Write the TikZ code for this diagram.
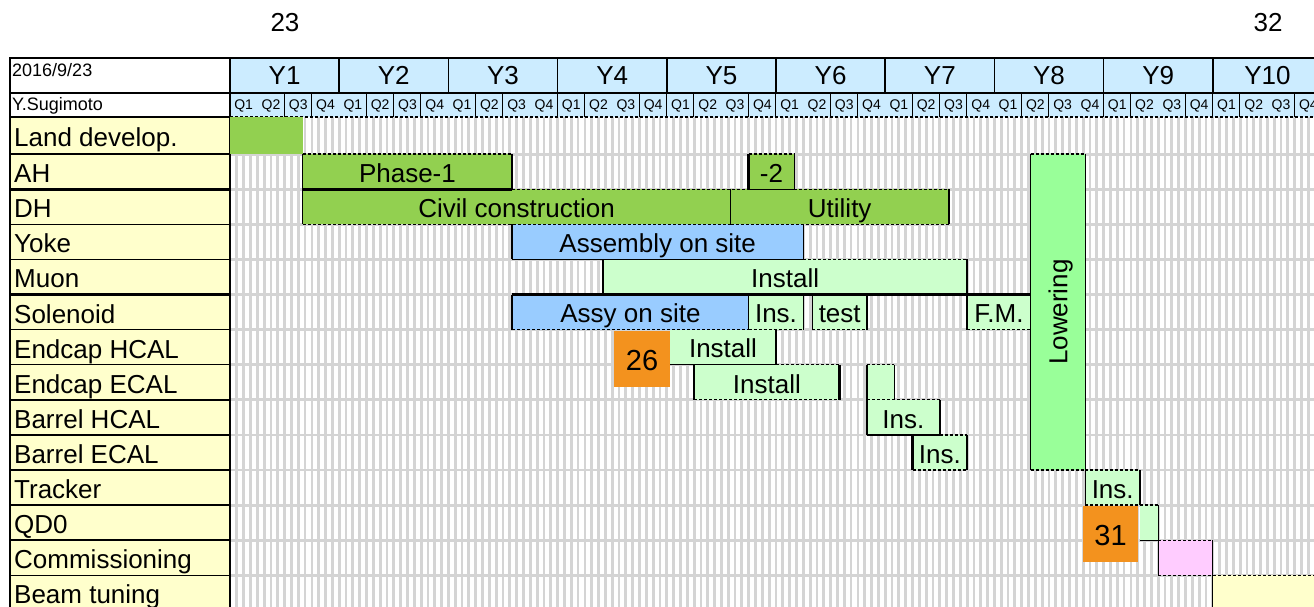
\documentclass[tikz,border=0pt]{standalone}
\usepackage{fontspec}
\setmainfont{Liberation Sans}
\usetikzlibrary{fit,calc}
\definecolor{xgreen}{RGB}{146,208,80}
\definecolor{xblue}{RGB}{153,204,255}
\definecolor{xlgreen}{RGB}{204,255,204}
\definecolor{xlow}{RGB}{153,255,153}
\definecolor{xpink}{RGB}{255,204,255}
\definecolor{xyellow}{RGB}{255,255,204}
\definecolor{xhead}{RGB}{204,236,255}
\definecolor{xorange}{RGB}{243,146,30}
\definecolor{xgrid}{RGB}{212,212,212}
\tikzset{
  bar/.style={inner sep=0pt, outer sep=0pt},
  btxt/.style={inner sep=0pt, font=\fontsize{26}{26}\selectfont, text height=18.6pt, text depth=0pt},
  sld/.style={draw=black, line width=1.3pt},
  thk/.style={draw=black, line width=2.6pt},
  dsh/.style={draw=black, line width=1.3pt, dash pattern=on 3pt off 2pt},
  nol/.style={draw=none},
  lab/.style={anchor=base west, inner sep=0pt, font=\fontsize{26}{26}\selectfont},
  yearlab/.style={inner sep=0pt, font=\fontsize{26}{26}\selectfont, text height=18.6pt, text depth=0pt},
  qlab/.style={inner sep=0pt, font=\fontsize{14}{14}\selectfont, text height=10pt, text depth=0pt},
  small/.style={anchor=base west, inner sep=0pt, font=\fontsize{18}{18}\selectfont},
  topnum/.style={inner sep=0pt, font=\fontsize{26}{26}\selectfont, text height=18.6pt, text depth=0pt},
  otxt/.style={inner sep=0pt, font=\fontsize{29}{29}\selectfont, text height=20.8pt, text depth=0pt}
}
\newcommand\baredges[5]{%
  \draw[#2] (#1.north west) -- (#1.north east);
  \draw[#3] (#1.north east) -- (#1.south east);
  \draw[#4] (#1.south west) -- (#1.south east);
  \draw[#5] (#1.north west) -- (#1.south west);}
\begin{document}
\begin{tikzpicture}[x=1pt,y=-1pt]
\useasboundingbox (0,0) rectangle (1314,607);
\clip (0,0) rectangle (1314,607);
\fill[white] (0,0) rectangle (1314,607);

% grid
\foreach \i in {1,...,160} {
  \draw[xgrid, line width=2.8pt] ({230+6.825*\i},117) -- ({230+6.825*\i},610);
}
\foreach \y in {154.1,189.2,224.3,259.4,294.5,329.6,364.7,399.8,434.9,470,505.1,540.2,575.3} {
  \draw[xgrid, line width=2.8pt] (230,\y) -- (1314,\y);
}

% top numbers
\node[topnum] (n23) at (285,22) {23};
\node[topnum] (n32) at (1268,22) {32};

% header left cells
\node[fit={(10,58)(230,93)}, inner sep=0pt, outer sep=0pt, fill=white, sld] (hdate) {};
\node[fit={(10,93)(230,117)}, inner sep=0pt, outer sep=0pt, fill=white, sld] (hname) {};
\node[small] (datetxt) at (12,77) {2016/9/23};
\node[small] (nametxt) at (12,111) {Y.Sugimoto};

% year cells
\foreach \k in {0,...,9} {
  \pgfmathsetmacro\xa{230+109.2*\k}
  \pgfmathsetmacro\xb{230+109.2*(\k+1)}
  \pgfmathtruncatemacro\yr{\k+1}
  \node[fit={(\xa,58)(\xb,93)}, inner sep=0pt, outer sep=0pt, fill=xhead, draw=black, line width=1.5pt] (y\yr) {};
  \node[yearlab] (yt\yr) at (y\yr.center) {Y\yr};
}
% quarter cells
\foreach \j in {0,...,39} {
  \pgfmathsetmacro\xa{230+27.3*\j}
  \pgfmathsetmacro\xb{230+27.3*(\j+1)}
  \pgfmathtruncatemacro\q{mod(\j,4)+1}
  \node[fit={(\xa,93)(\xb,117)}, inner sep=0pt, outer sep=0pt, fill=xhead] (q\j) {};
  \node[qlab] (qt\j) at (q\j.center) {Q\q};
  \draw[black, line width=1.3pt] (q\j.north east) -- (q\j.south east);
}
\draw[black, line width=1.3pt] (230,93) -- (1314,93);
\draw[dsh] (230,117) -- (1314,117);

% label column
\foreach \t/\b/\n/\txt in {117/154.1/0/Land develop., 154.1/189.2/1/AH, 189.2/224.3/2/DH, 224.3/259.4/3/Yoke, 259.4/294.5/4/Muon, 294.5/329.6/5/Solenoid, 329.6/364.7/6/Endcap HCAL, 364.7/399.8/7/Endcap ECAL, 399.8/434.9/8/Barrel HCAL, 434.9/470/9/Barrel ECAL, 470/505.1/10/Tracker, 505.1/540.2/11/QD0, 540.2/575.3/12/Commissioning, 575.3/610.4/13/Beam tuning} {
  \node[fit={(10,\t)(230,\b)}, inner sep=0pt, outer sep=0pt, fill=xyellow, draw=black, line width=1.5pt] (c\n) {};
  \node[lab] (l\n) at ($(c\n.west)+(4,11)$) {\txt};
}
\draw[thk] (10,189.2) -- (230,189.2);
\draw[thk] (10,294.5) -- (230,294.5);
\draw[thk] (10,470) -- (230,470);
\draw[black, line width=2pt] (10,58) -- (10,610);
\draw[black, line width=1.5pt] (230,58) -- (230,610);

% bars
\node[bar, fill=xgreen, fit={(230,117)(302.8,154.1)}] (land) {};
\node[bar, fill=xgreen, fit={(302.8,154.1)(512.1,189.2)}] (ph1) {};
\node[bar, fill=xgreen, fit={(748.7,154.1)(794.2,189.2)}] (ah2) {};
\node[bar, fill=xgreen, fit={(302.8,189.2)(730.5,224.3)}] (civil) {};
\node[bar, fill=xgreen, fit={(730.5,189.2)(948.9,224.3)}] (util) {};
\node[bar, fill=xblue, fit={(512.1,224.3)(803.3,259.4)}] (yoke) {};
\node[bar, fill=xlgreen, fit={(603.1,259.4)(967.1,294.5)}] (muon) {};
\node[bar, fill=xblue, fit={(512.1,294.5)(748.7,329.6)}] (sol) {};
\node[bar, fill=xlgreen, fit={(748.7,294.5)(803.3,329.6)}] (solins) {};
\node[bar, fill=xlgreen, fit={(812.4,294.5)(867,329.6)}] (soltest) {};
\node[bar, fill=xlgreen, fit={(967.1,294.5)(1030.8,329.6)}] (fm) {};
\node[bar, fill=xlow, fit={(1030.8,154.1)(1085.4,470)}] (lower) {};
\node[bar, fill=xlgreen, fit={(670,329.6)(776,364.7)}] (ehcal) {};
\node[bar, fill=xlgreen, fit={(694.1,364.7)(839.7,399.8)}] (eecal) {};
\node[bar, fill=xlgreen, fit={(867,364.7)(894.3,399.8)}] (eecal2) {};
\node[bar, fill=xlgreen, fit={(867,399.8)(939.8,434.9)}] (bhcal) {};
\node[bar, fill=xlgreen, fit={(912.5,434.9)(967.1,470)}] (becal) {};
\node[bar, fill=xlgreen, fit={(1085.4,470)(1140,505.1)}] (trk) {};
\node[bar, fill=xlgreen, fit={(1140,505.1)(1158.2,540.2)}] (qd0) {};
\node[bar, fill=xpink, fit={(1158.2,540.2)(1212.8,575.3)}] (comm) {};
\node[bar, fill=xyellow, fit={(1212.8,575.3)(1330,610.4)}] (beam) {};

% bar texts
\node[btxt] (ph1t) at ($(ph1.center)+(0,1.5)$) {Phase-1};
\node[btxt] (ah2t) at ($(ah2.center)+(0,1.5)$) {-2};
\node[btxt] (civilt) at ($(civil.center)+(0,1.5)$) {Civil construction};
\node[btxt] (utilt) at ($(util.center)+(0,1.5)$) {Utility};
\node[btxt] (yoket) at ($(yoke.center)+(0,1.5)$) {Assembly on site};
\node[btxt] (muont) at ($(muon.center)+(0,1.5)$) {Install};
\node[btxt] (solt) at ($(sol.center)+(0,1.5)$) {Assy on site};
\node[btxt] (solinst) at ($(solins.center)+(0,1.5)$) {Ins.};
\node[btxt] (soltestt) at ($(soltest.center)+(0,1.5)$) {test};
\node[btxt] (fmt) at ($(fm.center)+(0,1.5)$) {F.M.};
\node[btxt, rotate=90] (lowtxt) at (lower.center) {Lowering};
\node[btxt] (ehcalt) at ($(ehcal.center)+(0,1.5)$) {Install};
\node[btxt] (eecalt) at ($(eecal.center)+(0,1.5)$) {Install};
\node[btxt] (bhcalt) at ($(bhcal.center)+(0,1.5)$) {Ins.};
\node[btxt] (becalt) at ($(becal.center)+(0,1.5)$) {Ins.};
\node[btxt] (trkt) at ($(trk.center)+(0,1.5)$) {Ins.};

% bar edges: name, top, right, bottom, left
\baredges{ph1}{dsh}{thk}{thk}{sld}
\baredges{ah2}{dsh}{sld}{sld}{thk}
\baredges{civil}{nol}{sld}{dsh}{sld}
\baredges{util}{nol}{thk}{dsh}{nol}
\draw[dsh] (ph1.south east) -- (ah2.south west);
\draw[dsh] (ah2.south east) -- (util.north east);
\baredges{yoke}{nol}{sld}{sld}{thk}
\baredges{muon}{nol}{sld}{thk}{sld}
\draw[dsh] (yoke.south east) -- (muon.north east);
\baredges{sol}{thk}{sld}{dsh}{thk}
\baredges{solins}{nol}{sld}{dsh}{nol}
\baredges{soltest}{nol}{sld}{dsh}{sld}
\baredges{fm}{thk}{nol}{dsh}{sld}
\baredges{lower}{dsh}{sld}{dsh}{sld}
\baredges{ehcal}{nol}{thk}{sld}{nol}
\baredges{eecal}{nol}{thk}{dsh}{sld}
\draw[dsh] (ehcal.south east) -- (eecal.north east);
\baredges{eecal2}{dsh}{sld}{nol}{sld}
\baredges{bhcal}{dsh}{thk}{sld}{sld}
\baredges{becal}{nol}{sld}{dsh}{thk}
\draw[dsh] (bhcal.south east) -- (becal.north east);
\baredges{qd0}{dsh}{sld}{sld}{nol}
\baredges{comm}{dsh}{sld}{dsh}{sld}
\baredges{beam}{dsh}{nol}{nol}{sld}

% orange markers
\node[bar, fill=xorange, fit={(614,331)(670,387)}] (o26) {};
\node[otxt] (o26t) at ($(o26.center)+(0,1)$) {26};
\node[bar, fill=xorange, fit={(1083,506)(1138,562)}] (o31) {};
\node[otxt] (o31t) at ($(o31.center)+(0,1)$) {31};
\baredges{trk}{dsh}{thk}{dsh}{sld}
\end{tikzpicture}
\end{document}
